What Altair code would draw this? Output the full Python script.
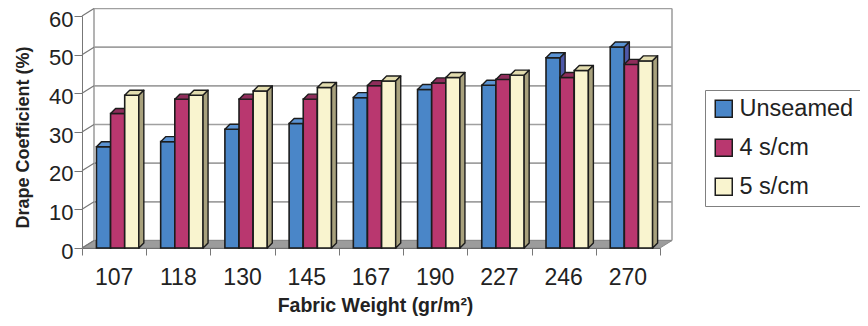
import altair as alt
import pandas as pd

# ---- data ----
categories = ["107", "118", "130", "145", "167", "190", "227", "246", "270"]
series_names = ["Unseamed", "4 s/cm", "5 s/cm"]
unseamed = [26.2, 27.5, 30.7, 32.2, 38.9, 41.0, 42.1, 49.2, 52.0]
s4 = [34.8, 38.5, 38.5, 38.5, 42.0, 42.7, 43.6, 44.1, 47.5]
s5 = [39.5, 39.5, 40.6, 41.5, 43.2, 44.1, 44.7, 45.9, 48.4]
y_ticks = [0, 10, 20, 30, 40, 50, 60]

front_colors = ["#4a86c8", "#b9376f", "#f9f4cf"]
top_colors = ["#5b93d3", "#8f2d5b", "#e3ddaf"]
side_colors = ["#4e58a8", "#7b234f", "#a8a17d"]

n = len(categories)
W, H = 578, 232
px_x = W / n
px_y = H / 60.0
OFF, BW = 0.225, 0.22
DXB, DYB = 5 / px_x, 5 / px_y      # bar depth
DXW, DYW = 12 / px_x, 7.5 / px_y   # wall depth

# ---- tables built from the lists ----
bars, tops, sides = [], [], []
for si, (name, vals) in enumerate(zip(series_names, [unseamed, s4, s5])):
    for i, c in enumerate(categories):
        x0 = i + OFF + si * BW
        x1 = x0 + BW
        v = vals[i]
        bars.append({"cat": c, "series": name, "s": si, "x0": x0, "x1": x1, "v": v, "z": 0.0})
        for k in (0, 1):
            tops.append({"cat": c, "s": si, "k": k, "tx": x0 + k * DXB, "tx2": x1 + k * DXB,
                         "ty": v + k * DYB})
            sides.append({"cat": c, "s": si, "k": k, "sx": x1 + k * DXB, "sy": k * DYB,
                          "sy2": v + k * DYB})
bars_df = pd.DataFrame(bars)
tops_df = pd.DataFrame(tops)
sides_df = pd.DataFrame(sides)

floor_df = pd.DataFrame({"fy": [0, DYW], "fx": [0, DXW], "fx2": [n, n + DXW]})
grid_df = pd.DataFrame({"t": y_ticks})
grid_df["gy"] = grid_df["t"] + DYW
grid_df["gx"] = DXW
grid_df["gx2"] = n + DXW
grid_df["x0"] = 0.0
edges_df = pd.DataFrame({"ex": [DXW, n + DXW], "ey": [DYW, DYW], "ey2": [60 + DYW, 60 + DYW]})
lab_df = pd.DataFrame({"cat": categories, "cx": [i + 0.5 for i in range(n)], "y0": [0.0] * n})

xs = alt.Scale(domain=[0, n], nice=False, zero=False)
ys = alt.Scale(domain=[0, 60], nice=False, zero=False)
FONT = "Liberation Sans"
GRID = "#a0a0a0"
AX = "#777777"
OUT = "#1c1c1c"

x_axis = alt.Axis(values=list(range(n + 1)), labels=False, tickSize=7, tickColor=AX,
                  domainColor="#555555", grid=False, title="Fabric Weight (gr/m²)",
                  titleFont=FONT, titleFontSize=19.5, titleFontWeight="bold", titleColor="#222222",
                  titleX=293, titleY=63, titleBaseline="alphabetic", titleAlign="center")
y_axis = alt.Axis(values=y_ticks, tickSize=8, tickColor=AX, domainColor=AX, grid=False,
                  labelFont=FONT, labelFontSize=22, labelColor="#222222", labelPadding=1,
                  labelOffset=3, title="Drape Coefficient (%)", titleFont=FONT, titleFontSize=18,
                  titleFontWeight="bold", titleColor="#222222", titleX=-59, titleY=121,
                  titleAngle=270, titleAlign="center", titleBaseline="middle")


def X(field):
    return alt.X(field, scale=xs, axis=x_axis)


def Y(field):
    return alt.Y(field, scale=ys, axis=y_axis)


grid = alt.Chart(grid_df).mark_rule(color=GRID, strokeWidth=1.6).encode(
    x=X("gx:Q"), x2="gx2:Q", y=Y("gy:Q"),
)
edges = alt.Chart(edges_df).mark_rule(color=GRID, strokeWidth=1.6).encode(
    x=X("ex:Q"), y=Y("ey:Q"), y2="ey2:Q",
)
floor = alt.Chart(floor_df).mark_area(orient="horizontal", fill="#9c9c9c", stroke="#8a8a8a",
                                      strokeWidth=1).encode(
    y=Y("fy:Q"), x=X("fx:Q"), x2="fx2:Q",
)
diag = alt.Chart(grid_df).mark_rule(color=AX, strokeWidth=1.2).encode(
    x=X("x0:Q"), x2="gx:Q", y=Y("t:Q"), y2="gy:Q",
)

layers = [grid, edges, floor, diag]

legend = alt.Legend(title=None, orient="none", legendX=623, legendY=74,
                    symbolType="square", symbolSize=289,
                    symbolStrokeColor=OUT, symbolStrokeWidth=1.5,
                    labelFont=FONT, labelFontSize=23.5, labelColor="#222222",
                    labelOffset=4, rowPadding=14, padding=7,
                    strokeColor="#808080", fillColor="white", labelLimit=0)

for si in range(3):
    front = alt.Chart(bars_df).transform_filter(f"datum.s == {si}").mark_rect(
        stroke=OUT, strokeWidth=1.6
    ).encode(
        x=X("x0:Q"), x2="x1:Q", y=Y("v:Q"), y2="z:Q",
        color=alt.Color("series:N", scale=alt.Scale(domain=series_names, range=front_colors),
                        legend=legend),
    )
    top = alt.Chart(tops_df).transform_filter(f"datum.s == {si}").mark_area(
        orient="horizontal", fill=top_colors[si], stroke=OUT, strokeWidth=1.4, strokeJoin="round"
    ).encode(
        y=Y("ty:Q"), x=X("tx:Q"), x2="tx2:Q", detail="cat:N",
    )
    side = alt.Chart(sides_df).transform_filter(f"datum.s == {si}").mark_area(
        orient="vertical", fill=side_colors[si], stroke=OUT, strokeWidth=1.4, strokeJoin="round"
    ).encode(
        x=X("sx:Q"), y=Y("sy2:Q"), y2="sy:Q", detail="cat:N",
    )
    layers += [front, top, side]

labels = alt.Chart(lab_df).mark_text(
    font=FONT, fontSize=23, color="#222222", baseline="alphabetic", align="center", dy=37
).encode(
    x=X("cx:Q"), y=Y("y0:Q"), text="cat:N",
)
layers.append(labels)

chart = alt.layer(*layers).properties(
    width=W, height=H,
    autosize=alt.AutoSizeParams(type="none"),
    padding={"left": 74, "top": 8, "right": 200, "bottom": 70},
    background="white",
).configure_view(stroke=None)

chart.save("out.html", embed_options={"renderer": "svg", "actions": False})
